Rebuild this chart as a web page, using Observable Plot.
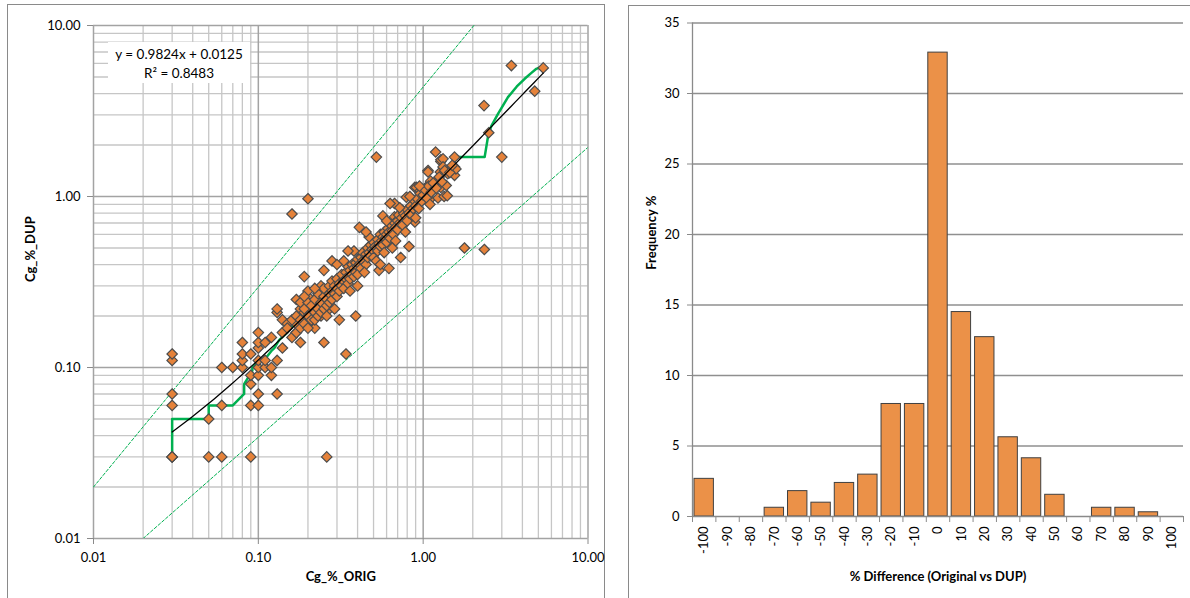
<!DOCTYPE html>
<html><head><meta charset="utf-8">
<script src="https://cdn.jsdelivr.net/npm/d3@7"></script>
<script src="https://cdn.jsdelivr.net/npm/@observablehq/plot@0.6"></script>
<style>
body{margin:0;background:#fff;font-family:Lato,"Open Sans",sans-serif;}
#wrap{position:relative;width:1190px;height:598px;overflow:hidden;background:#fff;}
.frame{position:absolute;border:1.5px solid #8a8a8a;box-sizing:border-box;}
.plot{position:absolute;top:0;}
#eq{position:absolute;left:108px;top:42px;width:142px;height:41px;background:#fff;font-size:13.5px;text-align:center;line-height:19px;padding-top:3px;box-sizing:border-box;color:#000;}
</style></head><body>
<div id="wrap">
  <div class="frame" style="left:7px;top:4px;width:598px;height:640px"></div>
  <div class="frame" style="left:628px;top:5px;width:640px;height:640px"></div>
  <div id="left" class="plot" style="left:0px"></div>
  <div id="right" class="plot" style="left:620px"></div>
  <div id="eq">y = 0.9824x + 0.0125<br>R² = 0.8483</div>
</div>
<script>
// ---------- Data: scatter (Cg_%_ORIG, Cg_%_DUP) ----------
const outlierPoints = [
  [0.03,0.03],[0.03,0.03],[0.03,0.03],[0.03,0.06],[0.03,0.07],[0.03,0.11],[0.03,0.12],
  [0.05,0.05],[0.05,0.03],[0.06,0.06],[0.06,0.03],[0.09,0.03],
  [0.06,0.1],[0.07,0.1],[0.08,0.1],[0.08,0.11],[0.08,0.12],[0.08,0.14],
  [0.09,0.06],[0.1,0.06],[0.1,0.07],[0.09,0.08],[0.09,0.09],[0.1,0.09],[0.09,0.12],[0.1,0.1],[0.1,0.11],[0.1,0.13],[0.1,0.14],[0.1,0.16],
  [0.11,0.1],[0.11,0.11],[0.11,0.14],[0.12,0.09],[0.12,0.1],[0.12,0.15],[0.13,0.07],[0.13,0.11],[0.13,0.21],[0.13,0.22],
  [0.14,0.13],[0.14,0.16],[0.14,0.19],[0.15,0.18],[0.16,0.79],[0.17,0.16],[0.17,0.18],[0.17,0.25],[0.18,0.14],[0.18,0.22],[0.18,0.24],
  [0.19,0.19],[0.19,0.21],[0.19,0.34],[0.2,0.18],[0.2,0.22],[0.2,0.26],[0.2,0.28],[0.2,0.97],[0.21,0.2],[0.22,0.17],
  [0.24,0.2],[0.24,0.3],[0.25,0.14],[0.25,0.37],[0.26,0.03],[0.27,0.22],[0.28,0.42],[0.31,0.19],[0.34,0.12],[0.39,0.2],[0.41,0.66],
  [0.52,1.7],[0.54,0.37],[0.62,0.38],[0.73,0.44],[0.82,0.51],[0.67,0.91],[0.63,0.91],[0.57,0.77],[0.67,0.76],[0.75,0.83],[0.87,0.91],
  [0.79,0.99],[0.89,0.71],[0.89,1.13],[0.91,1.13],[0.96,0.99],[0.96,1.08],[1.04,1.13],[1.1,0.96],[1.11,1.23],[1.07,1.42],[1.07,1.39],
  [1.22,1.25],[1.23,0.98],[1.27,1.39],[1.28,1.13],[1.28,1.6],[1.28,1.64],[1.32,1.66],[1.32,1.49],[1.19,1.82],[1.34,1.0],[1.38,1.16],
  [1.4,1.01],[1.41,1.36],[1.55,1.7],[1.55,1.33],[1.55,1.49],[1.58,1.45],[1.78,0.5],[2.35,0.49],[2.34,3.4],[2.5,2.36],[3.0,1.7],
  [3.43,5.83],[4.75,4.13],[5.35,5.65]
];
const clusterPoints = [
  [0.15,0.17],[0.16,0.15],[0.16,0.19],[0.17,0.2],[0.17,0.16],[0.18,0.19],[0.18,0.17],[0.19,0.22],[0.19,0.18],[0.2,0.2],[0.2,0.24],[0.2,0.17],
  [0.21,0.19],[0.21,0.23],[0.22,0.21],[0.22,0.25],[0.22,0.19],[0.23,0.22],[0.23,0.27],[0.23,0.2],[0.24,0.24],[0.24,0.21],[0.25,0.26],[0.25,0.22],
  [0.25,0.29],[0.26,0.25],[0.26,0.23],[0.27,0.27],[0.27,0.3],[0.27,0.24],[0.28,0.28],[0.28,0.25],[0.28,0.32],[0.29,0.27],[0.29,0.3],[0.3,0.29],
  [0.3,0.33],[0.3,0.26],[0.31,0.31],[0.31,0.28],[0.32,0.35],[0.32,0.3],[0.33,0.32],[0.33,0.29],[0.34,0.36],[0.34,0.33],[0.35,0.34],[0.35,0.31],
  [0.35,0.39],[0.36,0.37],[0.36,0.33],[0.37,0.35],[0.37,0.4],[0.38,0.38],[0.38,0.34],[0.39,0.41],[0.39,0.36],[0.4,0.39],[0.4,0.43],[0.4,0.35],
  [0.41,0.4],[0.42,0.44],[0.42,0.38],[0.43,0.42],[0.43,0.47],[0.44,0.41],[0.45,0.46],[0.45,0.4],[0.46,0.44],[0.46,0.5],[0.47,0.47],[0.48,0.45],
  [0.48,0.52],[0.49,0.49],[0.5,0.48],[0.5,0.54],[0.5,0.44],[0.51,0.51],[0.52,0.5],[0.53,0.56],[0.53,0.48],[0.54,0.53],[0.55,0.6],[0.55,0.51],
  [0.56,0.55],[0.57,0.58],[0.57,0.52],[0.58,0.62],[0.59,0.57],[0.6,0.6],[0.6,0.54],[0.61,0.65],[0.62,0.62],[0.63,0.57],[0.64,0.68],[0.65,0.63],
  [0.66,0.6],[0.67,0.7],[0.68,0.66],[0.7,0.72],[0.7,0.64],[0.71,0.78],[0.72,0.7],[0.74,0.75],[0.75,0.68],[0.76,0.8],[0.78,0.77],[0.8,0.72],
  [0.8,0.84],[0.82,0.8],[0.84,0.88],[0.85,0.78],[0.87,0.85],[0.88,0.95],[0.9,0.88],[0.92,0.97],[0.94,0.85],[0.96,1.04],[0.98,0.94],[1.0,1.02],
  [1.02,1.1],[1.05,0.98],[1.08,1.15],[1.12,1.06],[1.15,1.2],[1.2,1.12],[1.25,1.3],[1.3,1.22],[1.35,1.42],[1.45,1.38],[1.5,1.52],
  [0.19,0.26],[0.22,0.29],[0.26,0.2],[0.29,0.22],[0.33,0.42],[0.36,0.28],[0.38,0.48],[0.44,0.36],[0.47,0.58],[0.52,0.42],[0.58,0.47],
  [0.6,0.72],[0.68,0.55],[0.72,0.86],[0.78,0.62],[0.83,1.0],[0.9,0.75],[0.95,1.15],[1.1,0.9],[0.45,0.62],[0.35,0.48],[0.3,0.4],[0.4,0.3],
  [0.55,0.4],[0.65,0.5]
];
// Sorted ORIG vs sorted DUP (Q-Q) line, as traced
const qqLine = [
  [0.03,0.03],[0.03,0.05],[0.05,0.05],[0.05,0.06],[0.07,0.06],[0.082,0.07],[0.082,0.08],[0.092,0.096],[0.092,0.1],[0.1,0.11],
  [0.108,0.11],[0.12,0.125],[0.125,0.13],[0.134,0.145],[0.15,0.16],[0.18,0.2],[0.21,0.23],[0.3,0.31],[0.45,0.47],[0.6,0.63],
  [0.87,0.93],[1.2,1.3],[1.45,1.45],[1.55,1.62],[1.57,1.7],[2.36,1.7],[2.49,2.33],[2.6,2.6],[2.85,3.05],[3.27,3.81],[3.7,4.4],
  [4.13,4.88],[4.5,5.25],[4.86,5.58],[5.1,5.69],[5.35,5.7]
];
// Envelope lines (dashed)
const upperEnvelope = [[0.01,0.02],[2.03,10]];
const lowerEnvelope = [[0.02,0.01],[10,1.94]];
// Linear trend: y = 0.9824x + 0.0125
const trendSlope = 0.9824, trendIntercept = 0.0125, trendXMin = 0.03, trendXMax = 5.35;
const logTicks = [0.01, 0.1, 1, 10];

// ---------- Data: histogram ----------
const diffBins = [-100,-90,-80,-70,-60,-50,-40,-30,-20,-10,0,10,20,30,40,50,60,70,80,90,100];
const freqPct  = [2.67,0,0,0.62,1.8,0.98,2.38,2.97,7.98,7.98,32.9,14.5,12.72,5.62,4.13,1.54,0,0.62,0.62,0.3,0];
const freqTicks = [0,5,10,15,20,25,30,35];

// ---------- Left chart ----------
const minorGrid = [];
for (const d of [0.01,0.1,1]) for (let k=2;k<=9;k++) minorGrid.push(+(d*k).toPrecision(3));
const trendPts = d3.range(0,81).map(i => {
  const x = trendXMin*Math.pow(trendXMax/trendXMin, i/80);
  return [x, trendSlope*x + trendIntercept];
});
const allPts = outlierPoints.concat(clusterPoints);
const green = "#00B050";
const left = Plot.plot({
  width: 610, height: 598,
  marginLeft: 93, marginRight: 22.5, marginTop: 25, marginBottom: 60,
  style: {background:"transparent", fontFamily:"Lato, sans-serif", fontSize:"13px", color:"#000", overflow:"visible"},
  x: {type:"log", domain:[0.01,10]},
  y: {type:"log", domain:[0.01,10]},
  marks: [
    Plot.ruleX(minorGrid, {stroke:"#c6c6c6", strokeWidth:1.3}),
    Plot.ruleY(minorGrid, {stroke:"#c6c6c6", strokeWidth:1.3}),
    Plot.ruleX(logTicks, {stroke:"#a3a3a3", strokeWidth:1.5}),
    Plot.ruleY(logTicks, {stroke:"#a3a3a3", strokeWidth:1.5}),
    Plot.line(upperEnvelope, {x:d=>d[0], y:d=>d[1], stroke:green, strokeWidth:1, strokeDasharray:"3,2", clip:true}),
    Plot.line(lowerEnvelope, {x:d=>d[0], y:d=>d[1], stroke:green, strokeWidth:1, strokeDasharray:"3,2", clip:true}),
    Plot.line(qqLine, {x:d=>d[0], y:d=>d[1], stroke:green, strokeWidth:2.5, strokeLinejoin:"round"}),
    Plot.dot(allPts, {x:d=>d[0], y:d=>d[1], symbol:"diamond2", r:4.7, fill:"#E5823A", stroke:"#4d4d4d", strokeWidth:1.2}),
    Plot.line(trendPts, {x:d=>d[0], y:d=>d[1], stroke:"#000", strokeWidth:1.3}),
    Plot.axisX({ticks:logTicks, tickFormat:d=>d.toFixed(2), tickSize:6, tickPadding:8, stroke:"#8a8a8a", fill:"#000", fontSize:13, label:null}),
    Plot.axisY({ticks:logTicks, tickFormat:d=>d.toFixed(2), tickSize:6, tickPadding:7, stroke:"#8a8a8a", fill:"#000", fontSize:13, label:null}),
    Plot.text(["Cg_%_ORIG"], {frameAnchor:"bottom", dy:42, fontWeight:"bold", fontSize:13, fill:"#000"}),
    Plot.text(["Cg_%_DUP"], {frameAnchor:"left", dx:-63, rotate:-90, fontWeight:"bold", fontSize:13, fill:"#000"})
  ]
});
document.getElementById("left").appendChild(left);

// ---------- Right chart ----------
const histData = diffBins.map((b,i)=>({bin:b, freq:freqPct[i]})).filter(d=>d.freq>0);
const binEdges = d3.range(0, diffBins.length+1).map(i => -105 + 10*i);
const right = Plot.plot({
  width: 570, height: 598,
  marginLeft: 72, marginRight: 7, marginTop: 22.5, marginBottom: 82,
  style: {background:"transparent", fontFamily:"Lato, sans-serif", fontSize:"13px", color:"#000", overflow:"visible"},
  x: {domain:[-105,105]},
  y: {domain:[0,35]},
  marks: [
    Plot.ruleY(freqTicks.filter(t=>t>0), {stroke:"#8f8f8f", strokeWidth:1.3}),
    Plot.rectY(histData, {x1:d=>d.bin-4.15, x2:d=>d.bin+4.15, y:"freq", fill:"#EB9148", stroke:"#404040", strokeWidth:1}),
    Plot.ruleX([-105], {stroke:"#8a8a8a", strokeWidth:1.3}),
    Plot.ruleY([0], {stroke:"#8a8a8a", strokeWidth:1.3}),
    Plot.axisY({ticks:freqTicks, tickFormat:d=>String(d), tickSize:5, tickPadding:8, stroke:"#8a8a8a", fill:"#000", fontSize:13, label:null}),
    Plot.axisX({ticks:binEdges, tickFormat:()=>"", tickSize:6, stroke:"#8a8a8a", label:null}),
    Plot.axisX({ticks:diffBins, tickFormat:d=>String(d), tickSize:0, tickPadding:10, tickRotate:-90, fill:"#000", fontSize:13, label:null}),
    Plot.text(["% Difference (Original vs DUP)"], {frameAnchor:"bottom", dy:64, fontWeight:"bold", fontSize:13, fill:"#000"}),
    Plot.text(["Frequency %"], {frameAnchor:"left", dx:-41, rotate:-90, fontWeight:"bold", fontSize:13, fill:"#000"})
  ]
});
document.getElementById("right").appendChild(right);
</script>
</body></html>
